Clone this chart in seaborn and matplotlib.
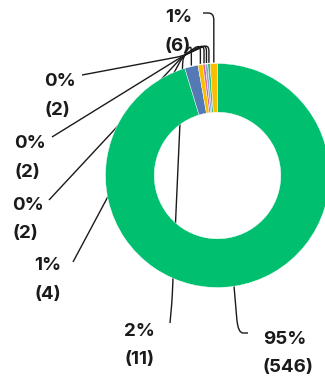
import numpy as np
import matplotlib.pyplot as plt
import seaborn as sns
from matplotlib.path import Path
from matplotlib.patches import PathPatch

sns.set_theme(style="white")
plt.rcParams['font.family'] = ['Inter', 'DejaVu Sans']

# data (clockwise from 12 o'clock)
counts = [546, 11, 4, 2, 2, 2, 6]
pct_labels = ["95%", "2%", "1%", "0%", "0%", "0%", "1%"]
colors = ["#00BF6F", "#5479B5", "#F9BE00", "#D9679A", "#8FA9C8", "#3DBB84", "#F9BE00"]

W, H = 325, 379
fig = plt.figure(figsize=(W / 100, H / 100), dpi=100)
ax = fig.add_axes([0, 0, 1, 1])

cx, cy, R = 217.5, 175.5, 112


def py(y):
    return H - y


wedges, _ = ax.pie(counts, colors=colors, startangle=90, counterclock=False,
                   radius=R, center=(cx, py(cy)),
                   wedgeprops=dict(width=R * 0.435, linewidth=0.3, edgecolor="white"))
for w in wedges:
    w.set_zorder(2)

ax.set_xlim(0, W)
ax.set_ylim(0, H)
ax.set_aspect('equal')
ax.axis('off')

# label anchor (text left, first line centre y) and leader end point, pixel coords
text_pos = [(263, 337.5), (124, 329), (34, 264), (12, 203), (14, 142), (44, 80), (165, 16)]
line_end = [(248, 333), (170, 323), (73, 262), (49, 200), (52, 137), (82, 75), (203, 13)]
conv = (183, 56)
gap = 28.5


def rounded_path(pts, r=7):
    verts, codes = [pts[0]], [Path.MOVETO]
    for i in range(1, len(pts) - 1):
        p0, p1, p2 = map(np.array, (pts[i - 1], pts[i], pts[i + 1]))
        d0 = p1 - p0
        d1 = p2 - p1
        r0 = min(r, np.linalg.norm(d0) / 2)
        r1 = min(r, np.linalg.norm(d1) / 2)
        a = p1 - d0 / np.linalg.norm(d0) * r0
        b = p1 + d1 / np.linalg.norm(d1) * r1
        verts += [tuple(a), tuple(p1), tuple(b)]
        codes += [Path.LINETO, Path.CURVE3, Path.CURVE3]
    verts.append(pts[-1])
    codes.append(Path.LINETO)
    return Path([(x, py(y)) for x, y in verts], codes)


for i, (c, w) in enumerate(zip(counts, wedges)):
    mid = (w.theta1 + w.theta2) / 2
    sx = cx + R * np.cos(np.radians(mid))
    sy = cy - R * np.sin(np.radians(mid))
    ex, ey = line_end[i]
    r = 7
    if i == 0:
        pts = [(ex, ey), (sx + 4, ey), (sx, sy)]
        r = 14
    elif i == len(counts) - 1:
        pts = [(ex, ey), (sx, ey), (sx, sy - 1)]
    elif i == 1:
        pts = [(ex, ey), (ex + 2, ey - 22), conv, (sx, 44), (sx, sy - 1)]
    else:
        pts = [(ex, ey), conv, (sx, 44), (sx, sy - 1)]
    ax.add_patch(PathPatch(rounded_path(pts, r), fill=False, lw=1.0,
                           edgecolor="#1a1a1a", zorder=1))

    tx, ty = text_pos[i]
    ax.text(tx, py(ty), pct_labels[i], ha='left', va='center_baseline',
            fontsize=13.5, fontweight='bold', color="#1b1b1b", zorder=3)
    ax.text(tx, py(ty + gap), f"({c})", ha='left', va='center_baseline',
            fontsize=13.5, fontweight='bold', color="#1b1b1b", zorder=3)

fig.savefig("out.png", dpi=100)
